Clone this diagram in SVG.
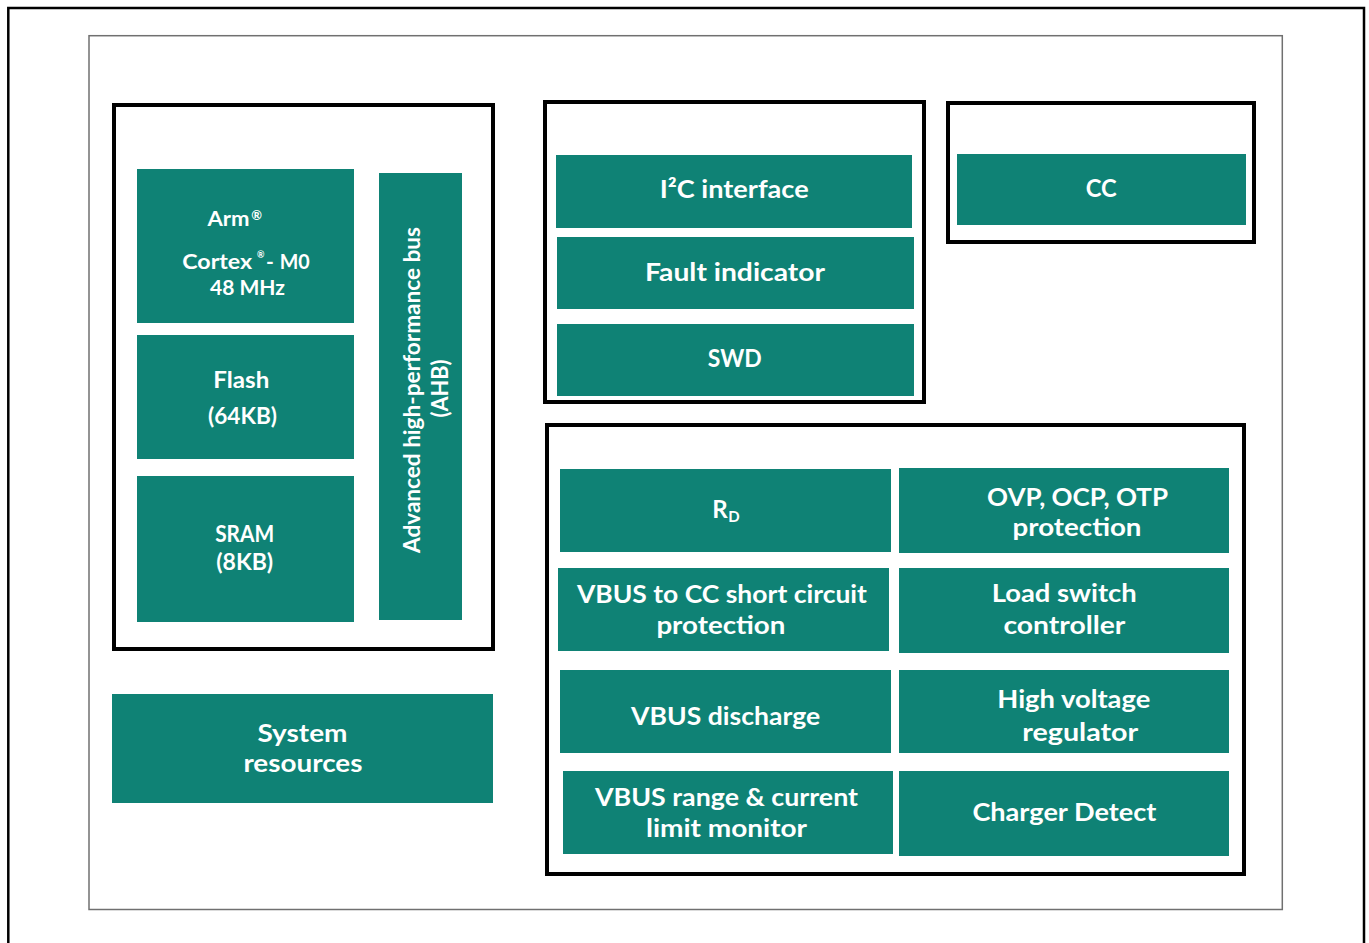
<svg xmlns="http://www.w3.org/2000/svg" width="1369" height="943" viewBox="0 0 1369 943">
<style>
.box{fill:#0f8275}
.frame{fill:none;stroke:#000;stroke-width:4}
.t{font-family:Lato,"Open Sans","Liberation Sans",sans-serif;font-weight:700;fill:#fff;text-anchor:middle}
.s20{font-size:20px}.s21{font-size:21px}.s22{font-size:22px}.s24{font-size:24px}.s25{font-size:25px}
</style>
<rect x="0" y="0" width="1369" height="943" fill="#fff"/>
<path d="M8.3,950 V8 H1364 V950" fill="none" stroke="#000" stroke-width="2.5"/>
<rect x="89" y="35.7" width="1193.3" height="873.8" fill="none" stroke="#707070" stroke-width="1.5"/>

<g id="cpu-subsystem">
<rect class="frame" x="114" y="105" width="379" height="544"/>
</g>
<g id="arm-cortex">
<rect class="box" x="137" y="169" width="217" height="154"/>
<text class="t s21" x="228.5" y="226" textLength="42" lengthAdjust="spacingAndGlyphs">Arm</text>
<text class="t" x="256.7" y="220" font-size="13">®</text>
<text class="t s21" x="217.2" y="269.3" textLength="70" lengthAdjust="spacingAndGlyphs">Cortex</text>
<text class="t" x="260.8" y="258" font-size="9">®</text>
<text class="t s21" x="270" y="269.3">-</text>
<text class="t s21" x="294.7" y="269.3" textLength="30" lengthAdjust="spacingAndGlyphs">M0</text>
<text class="t s21" x="247.5" y="294.5" textLength="75" lengthAdjust="spacingAndGlyphs">48 MHz</text>
</g>
<g id="flash">
<rect class="box" x="137" y="335" width="217" height="124"/>
<text class="t s22" x="241.3" y="387.7" textLength="56" lengthAdjust="spacingAndGlyphs">Flash</text>
<text class="t s22" x="242.5" y="424" textLength="69" lengthAdjust="spacingAndGlyphs">(64KB)</text>
</g>
<g id="sram">
<rect class="box" x="137" y="476" width="217" height="146"/>
<text class="t s22" x="244.7" y="542" textLength="59" lengthAdjust="spacingAndGlyphs">SRAM</text>
<text class="t s22" x="244.7" y="569.5" textLength="57" lengthAdjust="spacingAndGlyphs">(8KB)</text>
</g>
<g id="ahb">
<rect class="box" x="379" y="173" width="83" height="447"/>
<text class="t s22" transform="translate(420,390) rotate(-90)" x="0" y="0" textLength="326" lengthAdjust="spacingAndGlyphs">Advanced high-performance bus</text>
<text class="t s22" transform="translate(448,388.5) rotate(-90)" x="0" y="0" textLength="58" lengthAdjust="spacingAndGlyphs">(AHB)</text>
</g>
<g id="system-resources">
<rect class="box" x="112" y="694" width="381" height="109"/>
<text class="t s25" x="302.5" y="741.5" textLength="90" lengthAdjust="spacingAndGlyphs">System</text>
<text class="t s25" x="302.9" y="771.5" textLength="119" lengthAdjust="spacingAndGlyphs">resources</text>
</g>

<g id="peripherals">
<rect class="frame" x="545" y="102" width="379" height="300"/>
</g>
<g id="i2c">
<rect class="box" x="556" y="155" width="356" height="73"/>
<text class="t s24" x="734.2" y="198" textLength="149" lengthAdjust="spacingAndGlyphs">I²C interface</text>
</g>
<g id="fault-indicator">
<rect class="box" x="557" y="237" width="357" height="72"/>
<text class="t s24" x="735" y="281" textLength="180" lengthAdjust="spacingAndGlyphs">Fault indicator</text>
</g>
<g id="swd">
<rect class="box" x="557" y="324" width="357" height="72"/>
<text class="t s24" x="734.7" y="366.5" textLength="54" lengthAdjust="spacingAndGlyphs">SWD</text>
</g>

<g id="cc-frame">
<rect class="frame" x="948" y="103" width="306" height="139"/>
</g>
<g id="cc">
<rect class="box" x="957" y="154" width="289" height="71"/>
<text class="t s24" x="1101.3" y="196.5" textLength="31" lengthAdjust="spacingAndGlyphs">CC</text>
</g>

<g id="power-subsystem">
<rect class="frame" x="547" y="425" width="697" height="449"/>
</g>
<g id="rd">
<rect class="box" x="560" y="469" width="331" height="83"/>
<text class="t s24" y="518.3"><tspan x="720">R</tspan><tspan x="734" y="522" font-size="15">D</tspan></text>
</g>
<g id="ovp-ocp-otp">
<rect class="box" x="899" y="468" width="330" height="85"/>
<text class="t s24" x="1077.5" y="506" textLength="181" lengthAdjust="spacingAndGlyphs">OVP, OCP, OTP</text>
<text class="t s24" x="1077" y="536" textLength="129" lengthAdjust="spacingAndGlyphs">protection</text>
</g>
<g id="vbus-cc-short">
<rect class="box" x="558" y="568" width="331" height="83"/>
<text class="t s24" x="721.9" y="603" textLength="290" lengthAdjust="spacingAndGlyphs">VBUS to CC short circuit</text>
<text class="t s24" x="720.9" y="633.5" textLength="129" lengthAdjust="spacingAndGlyphs">protection</text>
</g>
<g id="load-switch">
<rect class="box" x="899" y="568" width="330" height="85"/>
<text class="t s24" x="1064.2" y="602" textLength="145" lengthAdjust="spacingAndGlyphs">Load switch</text>
<text class="t s24" x="1064.4" y="634" textLength="122" lengthAdjust="spacingAndGlyphs">controller</text>
</g>
<g id="vbus-discharge">
<rect class="box" x="560" y="670" width="331" height="83"/>
<text class="t s24" x="725.6" y="724.5" textLength="189" lengthAdjust="spacingAndGlyphs">VBUS discharge</text>
</g>
<g id="hv-regulator">
<rect class="box" x="899" y="670" width="330" height="83"/>
<text class="t s24" x="1073.8" y="708" textLength="153" lengthAdjust="spacingAndGlyphs">High voltage</text>
<text class="t s24" x="1080.2" y="740.5" textLength="116" lengthAdjust="spacingAndGlyphs">regulator</text>
</g>
<g id="vbus-range">
<rect class="box" x="563" y="771" width="330" height="83"/>
<text class="t s24" x="726.5" y="805.5" textLength="263" lengthAdjust="spacingAndGlyphs">VBUS range &amp; current</text>
<text class="t s24" x="726.5" y="836.5" textLength="161" lengthAdjust="spacingAndGlyphs">limit monitor</text>
</g>
<g id="charger-detect">
<rect class="box" x="899" y="771" width="330" height="85"/>
<text class="t s24" x="1064.4" y="820.5" textLength="184" lengthAdjust="spacingAndGlyphs">Charger Detect</text>
</g>
<g id="connectors"/>
</svg>
